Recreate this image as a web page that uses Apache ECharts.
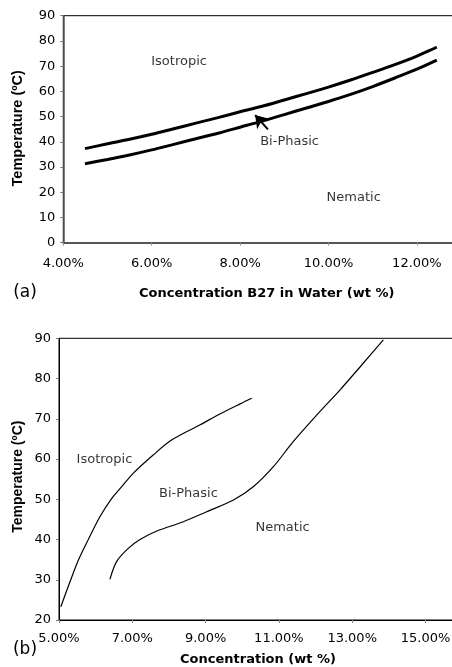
<!DOCTYPE html>
<html>
<head>
<meta charset="utf-8">
<script src="https://cdn.jsdelivr.net/npm/echarts@6/dist/echarts.min.js"></script>
<style>
html,body{margin:0;padding:0;background:#fff;}
#c{width:452px;height:667px;}
</style>
</head>
<body>
<div id="c"></div>
<script>
// ---- Panel (a) data ----
var aXTicks = [4, 6, 8, 10, 12];
var aUpperConc = [4.49, 5.0, 5.5, 6.0, 6.5, 7.0, 7.5, 8.0, 8.5, 9.0, 9.5, 10.0, 10.5, 11.0, 11.5, 12.0, 12.45];
var aUpperTemp = [37.3, 39.2, 41.0, 43.0, 45.2, 47.4, 49.6, 51.9, 54.1, 56.6, 59.1, 61.7, 64.5, 67.5, 70.6, 74.0, 77.5];
var aLowerConc = [4.49, 5.0, 5.5, 6.0, 6.5, 7.0, 7.5, 8.0, 8.5, 9.0, 9.5, 10.0, 10.5, 11.0, 11.5, 12.0, 12.45];
var aLowerTemp = [31.3, 33.0, 34.8, 36.8, 39.0, 41.2, 43.4, 45.8, 48.2, 50.8, 53.4, 56.0, 58.8, 61.9, 65.3, 68.8, 72.4];
var aLabels = ['Isotropic', 'Bi-Phasic', 'Nematic'];
var aLabelConc = [6.62, 9.12, 10.57];
var aLabelTemp = [71.8, 40.0, 17.8];
var aArrowFrom = [8.63, 44.9];
var aArrowTo = [8.34, 50.6];

// ---- Panel (b) data ----
var bLeftConc = [5.05, 5.3, 5.53, 5.8, 6.12, 6.44, 6.7, 7.03, 7.57, 8.07, 8.85, 9.39, 9.94, 10.26];
var bLeftTemp = [23.3, 29.5, 34.9, 40.0, 45.7, 50.2, 53.0, 56.5, 61.0, 64.7, 68.5, 71.2, 73.7, 75.1];
var bRightConc = [6.39, 6.57, 6.89, 7.21, 7.67, 8.39, 9.03, 9.76, 10.30, 10.85, 11.39, 12.03, 12.67, 13.30, 13.85];
var bRightTemp = [30.1, 34.5, 37.8, 40.0, 42.1, 44.4, 46.9, 49.8, 53.1, 58.1, 64.3, 70.9, 77.2, 83.8, 89.6];
var bLabels = ['Isotropic', 'Bi-Phasic', 'Nematic'];
var bLabelConc = [6.24, 8.53, 11.10];
var bLabelTemp = [59.8, 51.5, 43.0];

function pairs(xs, ys) { return xs.map(function (x, i) { return [x, ys[i]]; }); }
function labelPts(names, xs, ys) { return names.map(function (n, i) { return { name: n, value: [xs[i], ys[i]] }; }); }

var tickFont = { fontFamily: 'DejaVu Sans', fontSize: 13, color: '#000' };
var pctFmt = function (v) { return v.toFixed(2) + '%'; };

var chart = echarts.init(document.getElementById('c'), null, { renderer: 'canvas' });
chart.setOption({
  animation: false,
  backgroundColor: '#fff',
  grid: [
    { left: 63.3, top: 15.7, width: 442, height: 227, show: true, borderColor: '#000', borderWidth: 1, containLabel: false, outerBoundsMode: 'none' },
    { left: 59, top: 338.3, width: 439.8, height: 281.7, show: true, borderColor: '#000', borderWidth: 1, containLabel: false, outerBoundsMode: 'none' }
  ],
  xAxis: [
    { type: 'value', gridIndex: 0, min: 4, max: 14, interval: 2,
      axisLine: { show: true, onZero: false, lineStyle: { color: '#555', width: 2 } },
      axisTick: { show: true, length: 3, lineStyle: { color: '#999' } },
      splitLine: { show: false },
      axisLabel: Object.assign({ margin: 14, formatter: pctFmt }, tickFont) },
    { type: 'value', gridIndex: 1, min: 5, max: 17, interval: 2,
      axisLine: { show: true, onZero: false, lineStyle: { color: '#000', width: 1 } },
      axisTick: { show: true, length: 3, lineStyle: { color: '#888' } },
      splitLine: { show: false },
      axisLabel: Object.assign({ margin: 12, formatter: pctFmt }, tickFont) }
  ],
  yAxis: [
    { type: 'value', gridIndex: 0, min: 0, max: 90, interval: 10,
      axisLine: { show: true, onZero: false, lineStyle: { color: '#555', width: 1.5 } },
      axisTick: { show: true, length: 3, lineStyle: { color: '#777' } },
      splitLine: { show: false },
      axisLabel: Object.assign({ margin: 8 }, tickFont) },
    { type: 'value', gridIndex: 1, min: 20, max: 90, interval: 10,
      axisLine: { show: true, onZero: false, lineStyle: { color: '#000', width: 1 } },
      axisTick: { show: true, length: 3, lineStyle: { color: '#777' } },
      splitLine: { show: false },
      axisLabel: Object.assign({ margin: 8 }, tickFont) }
  ],
  series: [
    { type: 'line', xAxisIndex: 0, yAxisIndex: 0, data: pairs(aUpperConc, aUpperTemp),
      showSymbol: false, symbol: 'none', smooth: 0.3, lineStyle: { color: '#000', width: 3 },
      markLine: { silent: true, symbol: ['none', 'arrow'], symbolSize: 12, label: { show: false },
        lineStyle: { color: '#000', width: 2, type: 'solid' },
        data: [[{ coord: aArrowFrom }, { coord: aArrowTo }]] } },
    { type: 'line', xAxisIndex: 0, yAxisIndex: 0, data: pairs(aLowerConc, aLowerTemp),
      showSymbol: false, symbol: 'none', smooth: 0.3, lineStyle: { color: '#000', width: 3 } },
    { type: 'scatter', xAxisIndex: 0, yAxisIndex: 0, data: labelPts(aLabels, aLabelConc, aLabelTemp),
      symbolSize: 0, silent: true,
      label: { show: true, position: 'inside', formatter: '{b}', fontFamily: 'DejaVu Sans', fontSize: 13, color: '#000' } },
    { type: 'line', xAxisIndex: 1, yAxisIndex: 1, data: pairs(bLeftConc, bLeftTemp),
      showSymbol: false, symbol: 'none', smooth: 0.3, lineStyle: { color: '#000', width: 1.2 } },
    { type: 'line', xAxisIndex: 1, yAxisIndex: 1, data: pairs(bRightConc, bRightTemp),
      showSymbol: false, symbol: 'none', smooth: 0.3, lineStyle: { color: '#000', width: 1.2 } },
    { type: 'scatter', xAxisIndex: 1, yAxisIndex: 1, data: labelPts(bLabels, bLabelConc, bLabelTemp),
      symbolSize: 0, silent: true,
      label: { show: true, position: 'inside', formatter: '{b}', fontFamily: 'DejaVu Sans', fontSize: 13, color: '#000' } }
  ],
  graphic: [
    { type: 'text', x: 266.7, y: 294, style: { text: 'Concentration B27 in Water (wt %)', font: 'bold 13px "DejaVu Sans"', fill: '#000', textAlign: 'center', textVerticalAlign: 'middle' } },
    { type: 'text', x: 18.3, y: 128.3, rotation: Math.PI / 2, style: { text: 'Temperature (ºC)', font: 'bold 14.5px "Liberation Sans"', fill: '#000', textAlign: 'center', textVerticalAlign: 'middle' } },
    { type: 'text', x: 25, y: 293, style: { text: '(a)', font: '17px "DejaVu Sans"', fill: '#000', textAlign: 'center', textVerticalAlign: 'middle' } },
    { type: 'text', x: 258, y: 660, style: { text: 'Concentration (wt %)', font: 'bold 13px "DejaVu Sans"', fill: '#000', textAlign: 'center', textVerticalAlign: 'middle' } },
    { type: 'text', x: 18.3, y: 476.7, rotation: Math.PI / 2, style: { text: 'Temperature (ºC)', font: 'bold 14px "Liberation Sans"', fill: '#000', textAlign: 'center', textVerticalAlign: 'middle' } },
    { type: 'text', x: 25, y: 650, style: { text: '(b)', font: '17px "DejaVu Sans"', fill: '#000', textAlign: 'center', textVerticalAlign: 'middle' } }
  ]
});
</script>
</body>
</html>
